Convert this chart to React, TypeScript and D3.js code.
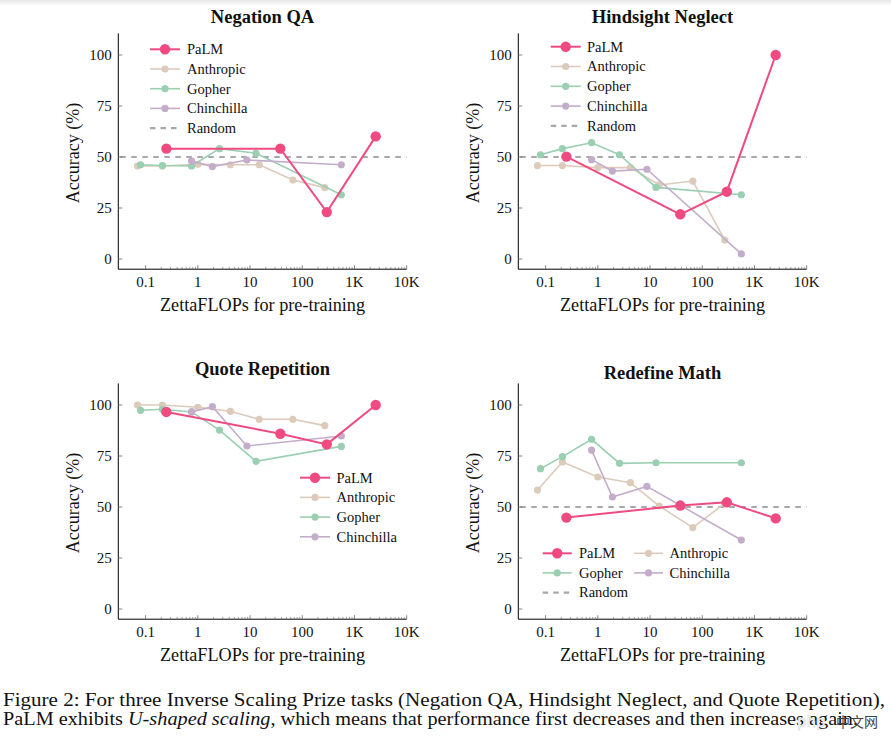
import React from "react";
import * as d3 from "d3";

// ---- data ----
const palmX = [0.25, 38, 295, 2550];
const anthropicX = [0.07, 0.21, 1.0, 4.2, 15, 66, 270];
const gopherX = [0.08, 0.21, 0.76, 2.6, 13, 560];
const chinchillaX = [0.76, 1.9, 8.7, 560];

const negPalm = [54.1, 54.1, 23.0, 60.1];
const negAnthropic = [45.6, 45.6, 46.4, 46.2, 46.2, 38.7, 35.0];
const negGopher = [46.2, 45.8, 45.6, 54.1, 51.8, 31.5];
const negChinchilla = [48.0, 45.3, 48.5, 46.2];

const hinPalm = [50.2, 21.9, 33.0, 100];
const hinAnthropic = [45.8, 45.8, 44.8, 44.8, 36.3, 38.2, 9.3];
const hinGopher = [51.1, 54.1, 57.0, 51.1, 35.1, 31.5];
const hinChinchilla = [48.7, 43.1, 44.0, 2.5];

const quoPalm = [96.6, 85.9, 80.7, 100];
const quoAnthropic = [100, 100, 98.9, 96.9, 93.0, 93.0, 89.9];
const quoGopher = [97.4, 97.9, 96.6, 87.7, 72.4, 79.7];
const quoChinchilla = [96.6, 99.2, 79.9, 84.8];

const redPalm = [44.8, 50.7, 52.3, 44.4];
const redAnthropic = [58.3, 72.1, 64.7, 61.9, 50.5, 39.9, 51.8];
const redGopher = [68.8, 74.7, 83.2, 71.4, 71.7, 71.7];
const redChinchilla = [77.9, 54.9, 60.1, 33.8];

const titles = ["Negation QA", "Hindsight Neglect", "Quote Repetition", "Redefine Math"];
const seriesNames = ["PaLM", "Anthropic", "Gopher", "Chinchilla"];
const randomLabel = "Random";
const randomValue = 50;
const xTickValues = [0.1, 1, 10, 100, 1000, 10000];
const xTickLabels = ["0.1", "1", "10", "100", "1K", "10K"];
const yTickValues = [0, 25, 50, 75, 100];
const xLabel = "ZettaFLOPs for pre-training";
const yLabel = "Accuracy (%)";

const COLORS: Record<string, string> = {
  PaLM: "#ef4b81",
  Anthropic: "#dccbbb",
  Gopher: "#9acfb1",
  Chinchilla: "#c4adca",
};
const FONT = "'Liberation Serif', 'DejaVu Serif', serif";

type Series = { name: string; xs: number[]; ys: number[] };

const xScale = d3.scaleLog().domain([0.03, 10000]).range([0, 288.4]);
const yScale = d3.scaleLinear().domain([0, 100]).range([259, 55]);
const AX0 = 118.3;

const minorTicks: number[] = [];
for (let e = -1; e < 4; e++) {
  for (let m = 2; m <= 9; m++) minorTicks.push(m * Math.pow(10, e));
}

type LegendCfg = {
  items: { name: string; x1: number; tx: number; y: number }[];
  lineLen: number;
};

function Panel(props: {
  ox: number;
  oy: number;
  title: string;
  titleY: number;
  series: Series[];
  random: boolean;
  legend: LegendCfg;
}) {
  const { ox, oy, title, titleY, series, random, legend } = props;
  const X = (v: number) => AX0 + xScale(v);
  const line = d3
    .line<[number, number]>()
    .x((d) => X(d[0]))
    .y((d) => yScale(d[1]));
  const yTop = yScale(110.6);
  const yBot = yScale(-5);
  const xRight = X(10000);
  const order = ["Anthropic", "Gopher", "Chinchilla", "PaLM"];
  const sorted = order
    .map((n) => series.find((s) => s.name === n))
    .filter(Boolean) as Series[];
  return (
    <g transform={`translate(${ox},${oy})`} fontFamily={FONT}>
      <text x={(AX0 + xRight) / 2} y={titleY} textAnchor="middle" fontWeight="bold" fontSize={18.5} fill="#111">
        {title}
      </text>
      {random && (
        <line x1={AX0} x2={xRight} y1={yScale(randomValue)} y2={yScale(randomValue)} stroke="#a8a8a8" strokeWidth={2.2} strokeDasharray="5.5,5.5" strokeDashoffset={-2} />
      )}
      {sorted.map((s) => {
        const pts = s.xs.map((x, i) => [x, s.ys[i]] as [number, number]);
        const isP = s.name === "PaLM";
        return (
          <g key={s.name}>
            <path d={line(pts) || ""} fill="none" stroke={COLORS[s.name]} strokeWidth={isP ? 2 : 1.6} />
            {pts.map((p, i) => (
              <circle key={i} cx={X(p[0])} cy={yScale(p[1])} r={isP ? 5.2 : 3.6} fill={COLORS[s.name]} />
            ))}
          </g>
        );
      })}
      <line x1={AX0} x2={AX0} y1={yTop} y2={yBot} stroke="#000" strokeWidth={1} />
      <line x1={AX0} x2={xRight} y1={yBot} y2={yBot} stroke="#000" strokeWidth={1} />
      {yTickValues.map((v) => (
        <g key={v}>
          <line x1={AX0} x2={AX0 + 4} y1={yScale(v)} y2={yScale(v)} stroke="#666" strokeWidth={0.8} />
          <text x={AX0 - 6.5} y={yScale(v) + 5} textAnchor="end" fontSize={15} fill="#111">
            {v}
          </text>
        </g>
      ))}
      {xTickValues.map((v, i) => (
        <g key={v}>
          <line x1={X(v)} x2={X(v)} y1={yBot} y2={yBot - 4} stroke="#666" strokeWidth={0.8} />
          <text x={X(v)} y={yBot + 17.5} textAnchor="middle" fontSize={15} fill="#111">
            {xTickLabels[i]}
          </text>
        </g>
      ))}
      {minorTicks.map((v) => (
        <line key={v} x1={X(v)} x2={X(v)} y1={yBot} y2={yBot - 2.3} stroke="#777" strokeWidth={0.7} />
      ))}
      <text x={(AX0 + xRight) / 2} y={310.5} textAnchor="middle" fontSize={18.2} fill="#111">
        {xLabel}
      </text>
      <text transform={`translate(79,153) rotate(-90)`} textAnchor="middle" fontSize={18} fill="#111">
        {yLabel}
      </text>
      {legend.items.map((it) => {
        const isR = it.name === randomLabel;
        const isP = it.name === "PaLM";
        const col = isR ? "#a8a8a8" : COLORS[it.name];
        return (
          <g key={it.name}>
            {isR ? (
              <line x1={it.x1} x2={it.x1 + legend.lineLen} y1={it.y} y2={it.y} stroke={col} strokeWidth={2.2} strokeDasharray="5.5,5" />
            ) : (
              <>
                <line x1={it.x1} x2={it.x1 + legend.lineLen} y1={it.y} y2={it.y} stroke={col} strokeWidth={isP ? 2 : 1.6} />
                <circle cx={it.x1 + legend.lineLen / 2} cy={it.y} r={isP ? 5.2 : 3.6} fill={col} />
              </>
            )}
            <text x={it.tx} y={it.y + 4.8} fontSize={14.5} fill="#111">
              {it.name}
            </text>
          </g>
        );
      })}
    </g>
  );
}

function colLegend(names: string[], x1: number, tx: number, y0: number, step: number): LegendCfg {
  return {
    lineLen: 30,
    items: names.map((n, i) => ({ name: n, x1, tx, y: y0 + i * step })),
  };
}

export default function App() {
  const mk = (p: number[], a: number[], g: number[], c: number[]): Series[] => [
    { name: "PaLM", xs: palmX, ys: p },
    { name: "Anthropic", xs: anthropicX, ys: a },
    { name: "Gopher", xs: gopherX, ys: g },
    { name: "Chinchilla", xs: chinchillaX, ys: c },
  ];
  const allNames = [...seriesNames, randomLabel];
  const leg4: LegendCfg = {
    lineLen: 29,
    items: [
      { name: "PaLM", x1: 142.7, tx: 179, y: 203.3 },
      { name: "Anthropic", x1: 234, tx: 269.5, y: 203.3 },
      { name: "Gopher", x1: 142.7, tx: 179, y: 222.9 },
      { name: "Chinchilla", x1: 234, tx: 269.5, y: 222.9 },
      { name: randomLabel, x1: 142.7, tx: 179, y: 242.6 },
    ],
  };
  return (
    <svg width={891} height={750} style={{ position: "absolute", left: 0, top: 0, background: "#fff" }}>
      <defs>
        <linearGradient id="topg" x1="0" y1="0" x2="0" y2="1">
          <stop offset="0" stopColor="#e6e6e6" />
          <stop offset="1" stopColor="#ffffff" />
        </linearGradient>
      </defs>
      <rect x={0} y={0} width={891} height={750} fill="#fff" />
      <rect x={0} y={0} width={891} height={6} fill="url(#topg)" />
      <Panel ox={0} oy={0} title={titles[0]} titleY={23} series={mk(negPalm, negAnthropic, negGopher, negChinchilla)} random legend={colLegend(allNames, 150, 187, 49.3, 19.7)} />
      <Panel ox={400} oy={0} title={titles[1]} titleY={23} series={mk(hinPalm, hinAnthropic, hinGopher, hinChinchilla)} random legend={colLegend(allNames, 150.7, 187, 46.7, 19.8)} />
      <Panel ox={0} oy={350} title={titles[2]} titleY={25} series={mk(quoPalm, quoAnthropic, quoGopher, quoChinchilla)} random={false} legend={colLegend(seriesNames, 300, 336.5, 127.7, 19.7)} />
      <Panel ox={400} oy={350} title={titles[3]} titleY={28.5} series={mk(redPalm, redAnthropic, redGopher, redChinchilla)} random legend={leg4} />
      <g fontFamily={FONT} fill="#111" fontSize={18}>
        <text x={3} y={706} textLength={882} lengthAdjust="spacingAndGlyphs">
          Figure 2: For three Inverse Scaling Prize tasks (Negation QA, Hindsight Neglect, and Quote Repetition),
        </text>
        <text x={3} y={725} textLength={855} lengthAdjust="spacingAndGlyphs">
          PaLM exhibits <tspan fontStyle="italic">U-shaped scaling</tspan>, which means that performance first decreases and then increases again.
        </text>
      </g>
      <g>
        <text x={797} y={727} fontFamily="'DejaVu Sans', sans-serif" fontSize={15} fill="#fff" stroke="#d8d8d8" strokeWidth={0.6}>
          php
        </text>
        <text x={836} y={727} fontFamily="'Noto Sans CJK SC', sans-serif" fontSize={14} fill="#444">
          中文网
        </text>
      </g>
    </svg>
  );
}
